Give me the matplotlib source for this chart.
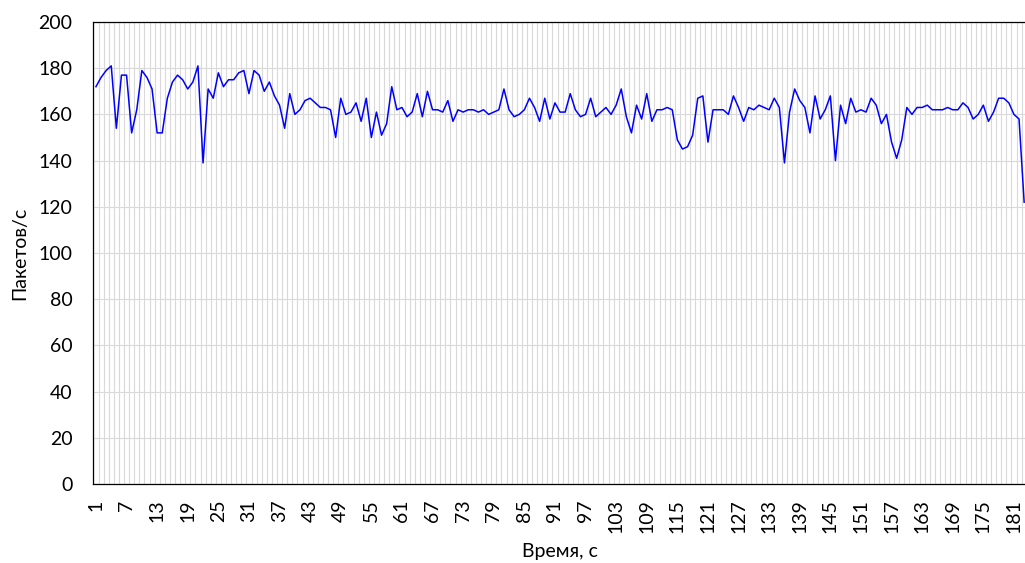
import matplotlib
matplotlib.use('Agg')
import matplotlib.pyplot as plt
import numpy as np

plt.rcParams['font.family'] = ['Lato', 'Noto Sans', 'DejaVu Sans']

# packets per second, one value per second (1..183)
packets = [172, 176, 179, 181, 154, 177, 177, 152, 162, 179,
           176, 171, 152, 152, 167, 174, 177, 175, 171, 174,
           181, 139, 171, 167, 178, 172, 175, 175, 178, 179,
           169, 179, 177, 170, 174, 168, 164, 154, 169, 160,
           162, 166, 167, 165, 163, 163, 162, 150, 167, 160,
           161, 165, 157, 167, 150, 161, 151, 156, 172, 162,
           163, 159, 161, 169, 159, 170, 162, 162, 161, 166,
           157, 162, 161, 162, 162, 161, 162, 160, 161, 162,
           171, 162, 159, 160, 162, 167, 163, 157, 167, 158,
           165, 161, 161, 169, 162, 159, 160, 167, 159, 161,
           163, 160, 164, 171, 159, 152, 164, 158, 169, 157,
           162, 162, 163, 162, 149, 145, 146, 151, 167, 168,
           148, 162, 162, 162, 160, 168, 163, 157, 163, 162,
           164, 163, 162, 167, 163, 139, 161, 171, 166, 163,
           152, 168, 158, 162, 168, 140, 164, 156, 167, 161,
           162, 161, 167, 164, 156, 160, 148, 141, 149, 163,
           160, 163, 163, 164, 162, 162, 162, 163, 162, 162,
           165, 163, 158, 160, 164, 157, 161, 167, 167, 165,
           160, 158, 122]
seconds = list(range(1, len(packets) + 1))
tick_labels = seconds[::6]

W, H = 1025, 563
fig = plt.figure(figsize=(W / 100, H / 100), dpi=100)
# plot area runs past the right edge of the picture, like the cropped original
ax = fig.add_axes([93.4 / W, (H - 484) / H, 933.3 / W, 462 / H])

ax.plot(seconds, packets, color='#0000ff', lw=1.1)

ax.set_xlim(0.5, len(packets) + 0.5)
ax.set_ylim(0, 200)
ax.set_yticks(range(0, 201, 20))
ax.set_xticks(tick_labels)
ax.set_xticks(np.arange(0.5, len(packets) + 1, 1), minor=True)
ax.tick_params(axis='x', which='major', length=0, pad=11, labelsize=14, labelrotation=90)
ax.tick_params(axis='x', which='minor', length=0)
ax.tick_params(axis='y', length=0, pad=15, labelsize=14)

ax.grid(axis='x', which='minor', color='#d9d9d9', lw=0.8)
ax.grid(axis='y', which='major', color='#d9d9d9', lw=0.8)
ax.set_axisbelow(True)
for s in ax.spines.values():
    s.set_color('black')
    s.set_linewidth(0.9)

fig.text(20 / W, 1 - 253 / H, 'Пакетов/с', rotation=90, ha='center', va='center', fontsize=14)
fig.text(560 / W, 1 - 551 / H, 'Время, с', ha='center', va='center', fontsize=14)

fig.savefig('out.png', dpi=100)
